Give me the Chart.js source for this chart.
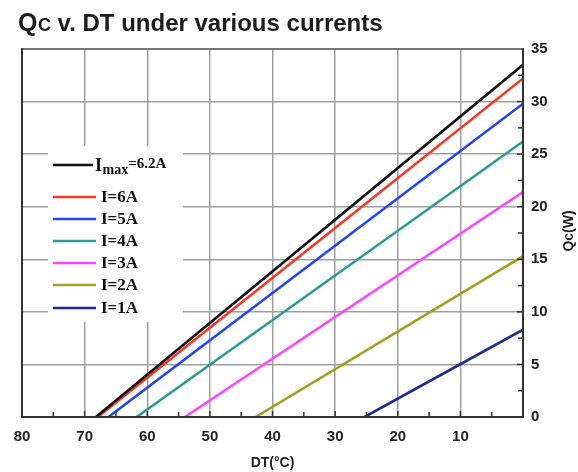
<!DOCTYPE html>
<html>
<head>
<meta charset="utf-8">
<script src="https://cdn.jsdelivr.net/npm/chart.js@4/dist/chart.umd.min.js"></script>
<style>
  html, body { margin: 0; padding: 0; background: #ffffff; }
  #wrap { width: 578px; height: 472px; position: relative; }
</style>
</head>
<body>
<div id="wrap"><canvas id="c" width="578" height="472"></canvas></div>
<script>
// ---- data ----
const seriesLabels = ['I_max=6.2A', 'I=6A', 'I=5A', 'I=4A', 'I=3A', 'I=2A', 'I=1A'];
// DT (°C) where Qc reaches 0 W, per series
const dtAtZeroQc = [68.2, 67.9, 66.2, 61.7, 54.0, 42.7, 25.3];
// Qc (W) at DT = 0 °C, per series
const qcAtZeroDt = [33.5, 32.2, 29.8, 26.2, 21.4, 15.3, 8.3];
const xTickValues = [80, 70, 60, 50, 40, 30, 20, 10];
const yTickValues = [0, 5, 10, 15, 20, 25, 30, 35];

const seriesColors = ['#111111', '#ff3322', '#2244ff', '#2a9d94', '#ff44ff', '#a3a023', '#1d2b96'];

const datasets = seriesLabels.map((lab, i) => ({
  label: lab,
  data: [{ x: dtAtZeroQc[i], y: 0 }, { x: 0, y: qcAtZeroDt[i] }],
  borderColor: seriesColors[i],
  backgroundColor: seriesColors[i],
  borderWidth: 2.6,
  pointRadius: 0,
  tension: 0,
  fill: false
}));

const SANS = '"Liberation Sans", Arial, sans-serif';
const SERIF = '"Liberation Serif", "Times New Roman", serif';

const extrasPlugin = {
  id: 'extras',
  afterDatasetsDraw(chart) {
    const ctx = chart.ctx;
    const a = chart.chartArea;
    const xs = chart.scales.x, ys = chart.scales.y;
    ctx.save();
    // legend box
    const bx = a.left + 26, by = a.top + 97, bw = 135, bh = 176;
    ctx.fillStyle = '#ffffff';
    ctx.fillRect(bx, by, bw, bh);
    const rowY = [19, 51, 73, 95, 117, 139, 162];
    chart.data.datasets.forEach((ds, i) => {
      const y = by + rowY[i];
      ctx.strokeStyle = ds.borderColor;
      ctx.lineWidth = 2.6;
      ctx.beginPath();
      ctx.moveTo(bx + 5, y);
      ctx.lineTo(bx + (i === 0 ? 45 : 48), y);
      ctx.stroke();
      ctx.fillStyle = '#111111';
      ctx.textBaseline = 'middle';
      ctx.textAlign = 'left';
      const lab = ds.label;
      if (lab.indexOf('_') >= 0) {
        const main = lab.split('_')[0];
        const rest = lab.split('_')[1];
        const sub = rest.slice(0, rest.indexOf('='));
        const tail = rest.slice(rest.indexOf('='));
        let x = bx + 47;
        ctx.font = 'bold 18px ' + SERIF;
        ctx.fillText(main, x, y + 1);
        x += ctx.measureText(main).width + 0.5;
        ctx.font = 'bold 14px ' + SERIF;
        ctx.fillText(sub, x, y + 5);
        x += ctx.measureText(sub).width;
        ctx.font = 'bold 15px ' + SERIF;
        ctx.fillText(tail, x, y - 1);
      } else {
        ctx.font = 'bold 17px ' + SERIF;
        ctx.fillText(lab, bx + 53, y + 1);
      }
    });
    ctx.restore();
  },
  afterDraw(chart) {
    const ctx = chart.ctx;
    const a = chart.chartArea;
    const xs = chart.scales.x, ys = chart.scales.y;
    ctx.save();
    // inward ticks
    ctx.strokeStyle = '#333333';
    ctx.lineWidth = 1.5;
    xs.ticks.forEach(t => {
      if (t.value <= 0 || t.value >= 80) return;
      const px = xs.getPixelForValue(t.value);
      const len = t.value % 10 === 0 ? 6 : 5;
      ctx.beginPath();
      ctx.moveTo(px, a.bottom);
      ctx.lineTo(px, a.bottom - len);
      ctx.stroke();
    });
    ys.ticks.forEach(t => {
      if (t.value <= 0 || t.value >= 35) return;
      const py = ys.getPixelForValue(t.value);
      const len = t.value % 5 === 0 ? 6 : 5;
      ctx.beginPath();
      ctx.moveTo(a.right, py);
      ctx.lineTo(a.right - len, py);
      ctx.stroke();
    });
    // frame
    ctx.lineWidth = 2;
    ctx.strokeStyle = '#777777';
    ctx.beginPath();
    ctx.moveTo(a.left, a.top);
    ctx.lineTo(a.right, a.top);
    ctx.stroke();
    ctx.strokeStyle = '#333333';
    ctx.beginPath();
    ctx.moveTo(a.left, a.top - 1);
    ctx.lineTo(a.left, a.bottom);
    ctx.lineTo(a.right, a.bottom);
    ctx.lineTo(a.right, a.top - 1);
    ctx.stroke();

    // title
    ctx.fillStyle = '#1c1c1c';
    ctx.textBaseline = 'alphabetic';
    ctx.textAlign = 'left';
    let x = 18;
    ctx.font = 'bold 25px ' + SANS;
    ctx.fillText('Q', x, 31);
    x += ctx.measureText('Q').width + 0.5;
    ctx.font = 'bold 18px ' + SANS;
    ctx.fillText('C', x, 31);
    x += ctx.measureText('C').width;
    ctx.font = 'bold 24px ' + SANS;
    ctx.fillText(' v. DT under various currents', x, 31);

    // right axis title
    ctx.save();
    ctx.translate(a.right + 46, (a.top + a.bottom) / 2 - 2);
    ctx.rotate(-Math.PI / 2);
    ctx.font = 'bold 14px ' + SANS;
    ctx.fillStyle = '#1c1c1c';
    ctx.textAlign = 'center';
    ctx.textBaseline = 'middle';
    ctx.fillText('Qc(W)', 0, 0);
    ctx.restore();
    ctx.restore();
  }
};

new Chart(document.getElementById('c'), {
  type: 'line',
  data: { datasets },
  options: {
    responsive: false,
    animation: false,
    events: [],
    layout: { padding: { left: 22, top: 49, right: 0, bottom: 0 } },
    plugins: { legend: { display: false }, tooltip: { enabled: false }, title: { display: false } },
    scales: {
      x: {
        type: 'linear',
        reverse: true,
        min: 0,
        max: 80,
        afterBuildTicks: s => {
          const arr = [];
          for (let v = 0; v <= 80; v += 5) arr.push({ value: v });
          s.ticks = arr;
        },
        ticks: {
          autoSkip: false,
          maxRotation: 0,
          padding: 11,
          color: '#222222',
          font: { family: SANS, size: 15, weight: 'bold' },
          callback: v => (xTickValues.indexOf(v) >= 0 ? String(v) : '')
        },
        grid: {
          drawTicks: false,
          lineWidth: 1.5,
          color: c => (c.tick && c.tick.value % 10 === 0 ? '#a0a0a0' : 'rgba(0,0,0,0)')
        },
        border: { display: false },
        title: {
          display: true,
          text: 'DT(°C)',
          color: '#222222',
          font: { family: SANS, size: 14, weight: 'bold' },
          padding: { top: 6, bottom: 0 }
        },
        afterFit: s => { s.height = 55; }
      },
      y: {
        type: 'linear',
        position: 'right',
        min: 0,
        max: 35,
        afterBuildTicks: s => {
          const arr = [];
          for (let v = 0; v <= 35; v += 2.5) arr.push({ value: v });
          s.ticks = arr;
        },
        ticks: {
          autoSkip: false,
          padding: 8,
          color: '#222222',
          font: { family: SANS, size: 15, weight: 'bold' },
          callback: v => (yTickValues.indexOf(v) >= 0 ? String(v) : '')
        },
        grid: {
          drawTicks: false,
          lineWidth: 1.5,
          color: c => (c.tick && c.tick.value % 5 === 0 ? '#a0a0a0' : 'rgba(0,0,0,0)')
        },
        border: { display: false },
        afterFit: s => { s.width = 55; }
      }
    }
  },
  plugins: [extrasPlugin]
});
</script>
</body>
</html>
